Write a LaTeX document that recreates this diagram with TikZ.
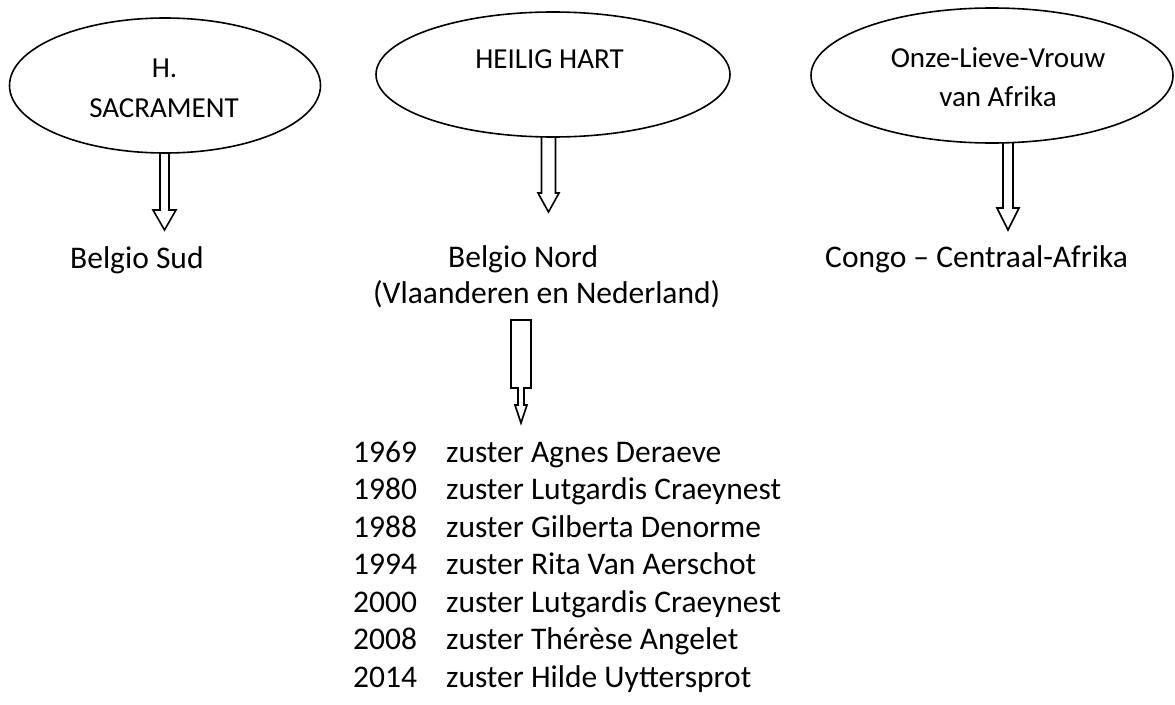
\documentclass[tikz,border=0pt]{standalone}
\usepackage{fontspec}
\setmainfont{Carlito}
\usetikzlibrary{shapes.geometric}
\begin{document}
\begin{tikzpicture}[x=1pt,y=-1pt,
  oval/.style={draw, ellipse, line width=1.6pt, inner sep=0pt},
  lbl/.style={anchor=base west, inner sep=0pt, font=\fontsize{31.5}{37.5}\selectfont},
  otext/.style={anchor=base, inner sep=0pt, font=\fontsize{29}{39}\selectfont},
  barrow/.style={draw, line width=1.6pt, fill=white, line join=miter}]
\useasboundingbox (0,0) rectangle (1175,704);
% block arrows
\draw[barrow] (160,153) -- (160,210) -- (153,210) -- (164.5,230) -- (176,210) -- (169,210) -- (169,153);
\draw[barrow] (541.5,137) -- (541.5,193) -- (538,193) -- (548.5,212) -- (559,193) -- (555.5,193) -- (555.5,137);
\draw[barrow] (1003,143) -- (1003,208) -- (997,208) -- (1008,230) -- (1019,208) -- (1013,208) -- (1013,143);
\draw[barrow] (511,320) -- (531,320) -- (531,388) -- (524,388) -- (524,405) -- (527,405) -- (521,423) -- (515,405) -- (518,405) -- (518,388) -- (511,388) -- cycle;
% ellipses
\node[oval, minimum width=311pt, minimum height=135pt] (e1) at (165,85.5) {};
\node[oval, minimum width=354pt, minimum height=125pt] (e2) at (553,74.5) {};
\node[oval, minimum width=362pt, minimum height=135pt] (e3) at (992,75.5) {};
% ellipse texts
\node[otext] (t1a) at (164.5,77) {H.};
\node[otext] (t1b) at (164,117) {SACRAMENT};
\node[otext] (t2) at (549.5,68) {HEILIG HART};
\node[otext] (t3a) at (998,67) {Onze-Lieve-Vrouw};
\node[otext] (t3b) at (998,106) {van Afrika};
% labels
\node[lbl] (bs) at (70,268) {Belgio Sud};
\node[lbl] (bn) at (448,267) {Belgio Nord};
\node[lbl] (vn) at (373,303) {(Vlaanderen en Nederland)};
\node[lbl] (cg) at (825,267) {Congo – Centraal-Afrika};
% list
\foreach \yr/\nm [count=\i from 0] in {1969/zuster Agnes Deraeve,1980/zuster Lutgardis Craeynest,1988/zuster Gilberta Denorme,1994/zuster Rita Van Aerschot,2000/zuster Lutgardis Craeynest,2008/zuster Thérèse Angelet,2014/zuster Hilde Uyttersprot}{
  \node[lbl] (y\i) at (353,{462+37.5*\i}) {\yr};
  \node[lbl] (n\i) at (446,{462+37.5*\i}) {\nm};
}
\end{tikzpicture}
\end{document}
